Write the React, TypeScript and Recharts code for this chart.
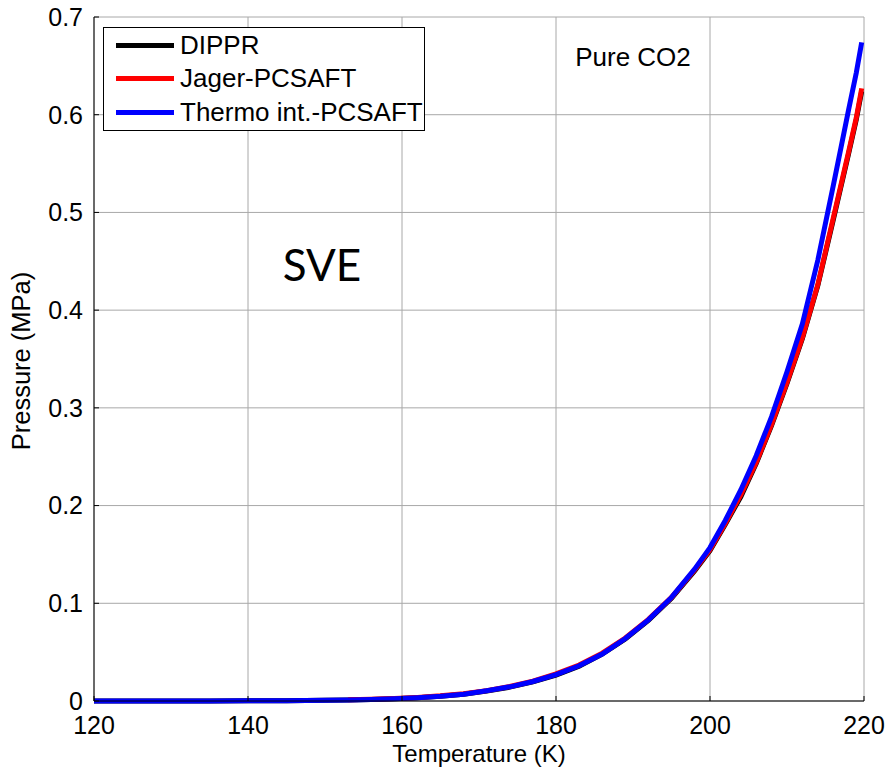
import { LineChart, Line, XAxis, YAxis, CartesianGrid, Legend } from "recharts";

const tempsK = [
  120, 125, 130, 135, 140, 145, 150, 153, 156, 159, 162, 165, 168, 171, 174, 177, 180, 183, 186, 189,
  192, 195, 198, 200, 202, 204, 206, 208, 210, 212, 214, 216, 217, 218, 219, 219.7,
];

// pressure in MPa
const dipprP = [
  0.000003, 0.000008, 0.00002, 0.00005, 0.00014, 0.0003, 0.00065, 0.001, 0.0015, 0.0023, 0.0034, 0.0049,
  0.007, 0.0102, 0.0142, 0.0196, 0.0265, 0.0355, 0.048, 0.0635, 0.0825, 0.105, 0.133, 0.154, 0.181, 0.209,
  0.243, 0.282, 0.325, 0.371, 0.425, 0.492, 0.526, 0.56, 0.595, 0.624,
];
const jagerP = [
  null, null, null, null, null, null, null, 0.0012, 0.0018, 0.0026, 0.0037, 0.0053, 0.0075, 0.0106, 0.0148,
  0.0204, 0.0277, 0.0368, 0.049, 0.0645, 0.0835, 0.106, 0.134, 0.155, 0.182, 0.211, 0.244, 0.283, 0.326,
  0.372, 0.426, 0.494, 0.528, 0.562, 0.597, 0.627,
];
const thermoP = [
  0.000003, 0.000008, 0.00002, 0.00005, 0.00014, 0.0003, 0.00065, 0.001, 0.0015, 0.0023, 0.0034, 0.0049,
  0.007, 0.0105, 0.0145, 0.02, 0.027, 0.036, 0.048, 0.064, 0.083, 0.106, 0.135, 0.157, 0.185, 0.216, 0.251,
  0.291, 0.337, 0.386, 0.451, 0.527, 0.566, 0.605, 0.643, 0.674,
];

const xTicks = [120, 140, 160, 180, 200, 220];
const yTicks = [0, 0.1, 0.2, 0.3, 0.4, 0.5, 0.6, 0.7];

const seriesNames = ["DIPPR", "Jager-PCSAFT", "Thermo int.-PCSAFT"];
const seriesColors = ["#000000", "#ff0000", "#0000ff"];

const data = tempsK.map((t, i) => ({
  t,
  dippr: dipprP[i],
  jager: jagerP[i],
  thermo: thermoP[i],
}));

const FONT = "'Liberation Sans', Arial, sans-serif";

function LegendBox() {
  return (
    <div
      style={{
        position: "relative",
        width: 320,
        height: 102,
        border: "1px solid #000",
        background: "#fff",
        fontFamily: FONT,
        fontSize: 26,
        color: "#000",
      }}
    >
      {seriesNames.map((name, i) => (
        <div key={name} style={{ position: "absolute", left: 0, top: 17 + i * 33.5 - 15, height: 30, display: "flex", alignItems: "center" }}>
          <div style={{ marginLeft: 12, width: 58, height: 5, background: seriesColors[i] }} />
          <span style={{ marginLeft: 6, whiteSpace: "nowrap" }}>{name}</span>
        </div>
      ))}
    </div>
  );
}

export default function App() {
  return (
    <div style={{ position: "absolute", left: 0, top: 0, width: 893, height: 771, background: "#fff" }}>
      <LineChart
        width={893}
        height={771}
        data={data}
        margin={{ top: 17, right: 29, left: 34, bottom: 40 }}
        style={{ fontFamily: FONT }}
      >
        <CartesianGrid stroke="#a8a8a8" strokeWidth={1} />
        <XAxis
          dataKey="t"
          type="number"
          domain={[120, 220]}
          ticks={xTicks}
          interval={0}
          height={30}
          axisLine={{ stroke: "#000" }}
          tickLine={{ stroke: "#000" }}
          tickSize={-5}
          tickMargin={20}
          tick={{ fill: "#000", fontSize: 25 }}
        />
        <XAxis
          xAxisId="top"
          orientation="top"
          type="number"
          domain={[120, 220]}
          ticks={xTicks}
          interval={0}
          height={0}
          axisLine={{ stroke: "#000" }}
          tickLine={{ stroke: "#000" }}
          tickSize={5}
          tick={false}
        />
        <YAxis
          type="number"
          domain={[0, 0.7]}
          ticks={yTicks}
          interval={0}
          width={60}
          axisLine={{ stroke: "#000" }}
          tickLine={{ stroke: "#000" }}
          tickSize={-5}
          tickMargin={16}
          tick={{ fill: "#000", fontSize: 25 }}
          tickFormatter={(v: number) => (v === 0 ? "0" : v.toFixed(1))}
        />
        <YAxis
          yAxisId="right"
          orientation="right"
          type="number"
          domain={[0, 0.7]}
          ticks={yTicks}
          interval={0}
          width={0}
          axisLine={{ stroke: "#000" }}
          tickLine={{ stroke: "#000" }}
          tickSize={-5}
          tick={false}
        />
        <Legend
          layout="horizontal"
          verticalAlign="middle"
          align="center"
          content={() => <LegendBox />}
          wrapperStyle={{ left: 103, top: 27, width: 322, height: 104 }}
        />
        <Line dataKey="dippr" name={seriesNames[0]} stroke={seriesColors[0]} strokeWidth={5} dot={false} connectNulls isAnimationActive={false} />
        <Line dataKey="jager" name={seriesNames[1]} stroke={seriesColors[1]} strokeWidth={5} dot={false} connectNulls isAnimationActive={false} />
        <Line dataKey="thermo" name={seriesNames[2]} stroke={seriesColors[2]} strokeWidth={5} dot={false} connectNulls isAnimationActive={false} />
      </LineChart>
      <svg width={893} height={771} style={{ position: "absolute", left: 0, top: 0, pointerEvents: "none" }}>
        <text x={633} y={66} textAnchor="middle" fontFamily={FONT} fontSize={26} fill="#000">
          Pure CO2
        </text>
        <text x={322} y={281} textAnchor="middle" fontFamily="Lato, sans-serif" fontSize={44} fill="#000">
          SVE
        </text>
        <text x={479} y={762} textAnchor="middle" fontFamily={FONT} fontSize={24} fill="#000">
          Temperature (K)
        </text>
        <text x={30} y={361} textAnchor="middle" fontFamily={FONT} fontSize={25.5} fill="#000" transform="rotate(-90 30 361)">
          Pressure (MPa)
        </text>
      </svg>
    </div>
  );
}
